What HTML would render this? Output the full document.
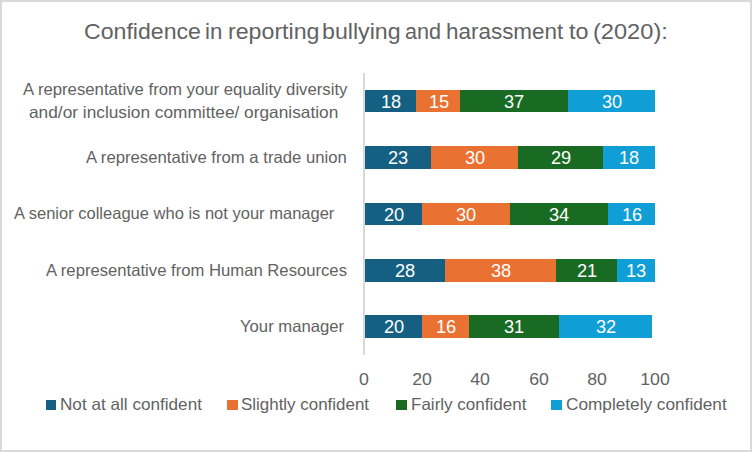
<!DOCTYPE html>
<html><head><meta charset="utf-8"><style>
html,body{margin:0;padding:0;background:#fff;}
body{width:752px;height:452px;position:relative;overflow:hidden;font-family:"Liberation Sans",sans-serif;}
.frame{position:absolute;left:0;top:0;width:748px;height:448px;border:2px solid #d9d9d9;}
.t{position:absolute;white-space:pre;color:#626262;line-height:20px;transform-origin:0 0;}
.seg{position:absolute;}
.dl{position:absolute;width:60px;text-align:center;color:#fff;font-size:17.5px;line-height:0px;transform:scaleX(1.04);}
.axis{position:absolute;left:363px;top:73px;width:2px;height:282px;background:#d9d9d9;}
.tick{position:absolute;width:60px;text-align:center;color:#626262;font-size:16.4px;line-height:0px;transform:scaleX(1.08);}
.sq{position:absolute;width:10px;height:10px;top:400px;}
</style></head><body>
<div class="frame"></div>
<div class="t" style="left:84.04px;top:22.00px;font-size:22px;transform:scaleX(1.0501)">Confidence</div>
<div class="t" style="left:204.83px;top:22.00px;font-size:22px;transform:scaleX(1.0113)">in</div>
<div class="t" style="left:227.75px;top:22.00px;font-size:22px;transform:scaleX(1.0534)">reporting</div>
<div class="t" style="left:321.71px;top:22.00px;font-size:22px;transform:scaleX(1.0533)">bullying</div>
<div class="t" style="left:404.55px;top:22.00px;font-size:22px;transform:scaleX(0.9819)">and</div>
<div class="t" style="left:446.19px;top:22.00px;font-size:22px;transform:scaleX(1.0199)">harassment</div>
<div class="t" style="left:568.92px;top:22.00px;font-size:22px;transform:scaleX(1.0622)">to</div>
<div class="t" style="left:592.87px;top:22.00px;font-size:22px;transform:scaleX(1.073)">(2020):</div>
<div class="t" style="left:22.61px;top:79.00px;font-size:16.5px;transform:scaleX(1.0136)">A representative from your equality diversity</div>
<div class="t" style="left:29.34px;top:102.00px;font-size:16.5px;transform:scaleX(1.0472)">and/or inclusion committee/ organisation</div>
<div class="t" style="left:86.00px;top:147.00px;font-size:16.5px;transform:scaleX(1.0121)">A representative from a trade union</div>
<div class="t" style="left:14.21px;top:203.00px;font-size:16.5px;transform:scaleX(1.0008)">A senior colleague who is not your manager</div>
<div class="t" style="left:46.21px;top:260.00px;font-size:16.5px;transform:scaleX(1.0098)">A representative from Human Resources</div>
<div class="t" style="left:240.00px;top:316.00px;font-size:16.5px;transform:scaleX(1.0104)">Your manager</div>
<div class="t" style="left:59.74px;top:394.00px;font-size:16.5px;transform:scaleX(1.0385)">Not at all confident</div>
<div class="t" style="left:241.38px;top:394.00px;font-size:16.5px;transform:scaleX(1.0262)">Slightly confident</div>
<div class="t" style="left:410.56px;top:394.00px;font-size:16.5px;transform:scaleX(1.0312)">Fairly confident</div>
<div class="t" style="left:565.57px;top:394.00px;font-size:16.5px;transform:scaleX(1.0431)">Completely confident</div>
<div class="axis"></div>
<div class="seg" style="left:365px;top:90px;width:51px;height:22px;background:#156082"></div>
<div class="dl" style="left:360.59px;top:101.94px">18</div>
<div class="seg" style="left:416px;top:90px;width:44px;height:22px;background:#E97132"></div>
<div class="dl" style="left:408.60px;top:101.94px">15</div>
<div class="seg" style="left:460px;top:90px;width:108px;height:22px;background:#196B24"></div>
<div class="dl" style="left:484.26px;top:101.94px">37</div>
<div class="seg" style="left:568px;top:90px;width:87px;height:22px;background:#0F9ED5"></div>
<div class="dl" style="left:581.75px;top:101.94px">30</div>
<div class="seg" style="left:365px;top:146px;width:66px;height:23px;background:#156082"></div>
<div class="dl" style="left:367.87px;top:157.94px">23</div>
<div class="seg" style="left:431px;top:146px;width:87px;height:23px;background:#E97132"></div>
<div class="dl" style="left:444.98px;top:157.94px">30</div>
<div class="seg" style="left:518px;top:146px;width:85px;height:23px;background:#196B24"></div>
<div class="dl" style="left:530.82px;top:157.94px">29</div>
<div class="seg" style="left:603px;top:146px;width:52px;height:23px;background:#0F9ED5"></div>
<div class="dl" style="left:599.21px;top:157.94px">18</div>
<div class="seg" style="left:365px;top:203px;width:57px;height:22px;background:#156082"></div>
<div class="dl" style="left:363.50px;top:214.94px">20</div>
<div class="seg" style="left:422px;top:203px;width:88px;height:22px;background:#E97132"></div>
<div class="dl" style="left:436.25px;top:214.94px">30</div>
<div class="seg" style="left:510px;top:203px;width:98px;height:22px;background:#196B24"></div>
<div class="dl" style="left:529.37px;top:214.94px">34</div>
<div class="seg" style="left:608px;top:203px;width:47px;height:22px;background:#0F9ED5"></div>
<div class="dl" style="left:602.12px;top:214.94px">16</div>
<div class="seg" style="left:365px;top:259px;width:80px;height:23px;background:#156082"></div>
<div class="dl" style="left:375.14px;top:270.94px">28</div>
<div class="seg" style="left:445px;top:259px;width:111px;height:23px;background:#E97132"></div>
<div class="dl" style="left:471.17px;top:270.94px">38</div>
<div class="seg" style="left:556px;top:259px;width:61px;height:23px;background:#196B24"></div>
<div class="dl" style="left:557.01px;top:270.94px">21</div>
<div class="seg" style="left:617px;top:259px;width:38px;height:23px;background:#0F9ED5"></div>
<div class="dl" style="left:606.49px;top:270.94px">13</div>
<div class="seg" style="left:365px;top:315px;width:57px;height:23px;background:#156082"></div>
<div class="dl" style="left:363.50px;top:326.94px">20</div>
<div class="seg" style="left:422px;top:315px;width:47px;height:23px;background:#E97132"></div>
<div class="dl" style="left:415.88px;top:326.94px">16</div>
<div class="seg" style="left:469px;top:315px;width:90px;height:23px;background:#196B24"></div>
<div class="dl" style="left:484.26px;top:326.94px">31</div>
<div class="seg" style="left:559px;top:315px;width:93px;height:23px;background:#0F9ED5"></div>
<div class="dl" style="left:575.93px;top:326.94px">32</div>
<div class="tick" style="left:334.00px;top:379.00px">0</div>
<div class="tick" style="left:392.20px;top:379.00px">20</div>
<div class="tick" style="left:450.40px;top:379.00px">40</div>
<div class="tick" style="left:508.60px;top:379.00px">60</div>
<div class="tick" style="left:566.80px;top:379.00px">80</div>
<div class="tick" style="left:625.00px;top:379.00px">100</div>
<div class="sq" style="left:46px;width:10px;background:#156082"></div>
<div class="sq" style="left:227px;width:11px;background:#E97132"></div>
<div class="sq" style="left:396px;width:11px;background:#196B24"></div>
<div class="sq" style="left:551px;width:11px;background:#0F9ED5"></div>
</body></html>
